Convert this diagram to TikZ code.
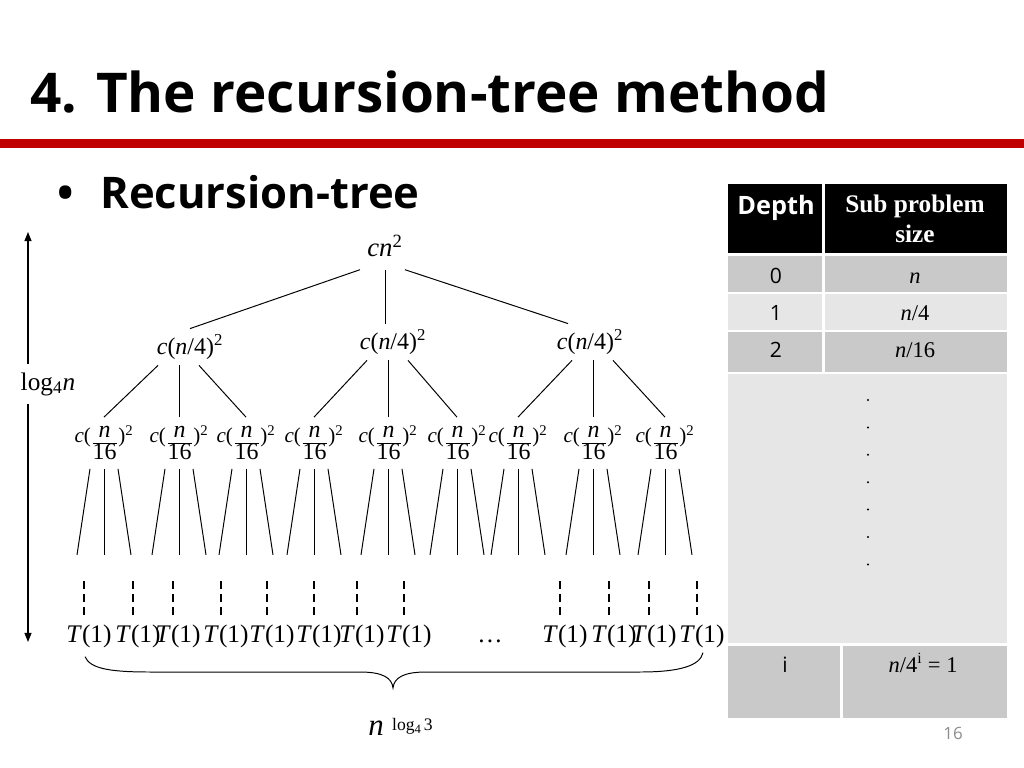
\documentclass[tikz,border=0pt]{standalone}
\usepackage{fontspec}
\setmainfont{Liberation Serif}
\newfontfamily\slidesans{Open Sans}
\usetikzlibrary{calc,positioning,arrows.meta}

\definecolor{slidered}{HTML}{C00000}
\definecolor{celldark}{HTML}{C9C9C9}
\definecolor{celllight}{HTML}{E6E6E6}
\definecolor{pagegray}{HTML}{8C8C8C}

\newcommand{\vv}[1]{\textit{#1}}
\newcommand{\fracpart}[1]{\mbox{\fontsize{17}{17}\selectfont #1}}
\newcommand{\subsixteen}{\vv{c}(\raisebox{-3.8pt}{$\frac{\raisebox{2pt}{\fracpart{\vv{n}}}}{\fracpart{16}}$})\textsuperscript{2}}

\begin{document}
\begin{tikzpicture}[
    x=0.025cm, y=-0.025cm,
    % Node styles
    title/.style={anchor=base west, inner sep=0pt, font=\slidesans\bfseries\fontsize{39}{47}\selectfont},
    bullettext/.style={anchor=base west, inner sep=0pt, font=\slidesans\bfseries\fontsize{31}{37}\selectfont},
    rootlbl/.style={inner xsep=5pt, inner ysep=9pt, font=\fontsize{19}{22}\selectfont},
    halflbl/.style={inner xsep=0pt, inner ysep=4pt, font=\fontsize{17}{20}\selectfont},
    sixteenthlbl/.style={inner xsep=0pt, inner ysep=6pt, font=\fontsize{15}{18}\selectfont},
    leaflbl/.style={anchor=base, inner sep=0pt, font=\fontsize{18}{21}\selectfont},
    loglbl/.style={inner xsep=0pt, inner ysep=6pt, font=\fontsize{18}{21}\selectfont},
    headsans/.style={text=white, font=\slidesans\bfseries\fontsize{18}{21}\selectfont},
    headserif/.style={text=white, align=center, font=\bfseries\fontsize{18}{21.3}\selectfont},
    depthtxt/.style={anchor=base, inner sep=0pt, font=\slidesans\fontsize{15}{18}\selectfont},
    sizetxt/.style={anchor=base, inner sep=0pt, font=\fontsize{16}{19}\selectfont},
    pagenum/.style={text=pagegray, font=\slidesans\fontsize{12}{14}\selectfont},
    % Line styles
    tree/.style={line width=0.7pt},
    leafdash/.style={line width=2pt, dash pattern=on 5.7pt off 3.6pt},
    vert/.style={-{Triangle[length=6.5pt,width=5pt]}, line width=0.8pt},
]

    \useasboundingbox (0,0) rectangle (1024,768);
    \fill[white] (0,0) rectangle (1024,768);

    % Title and bullet
    \node[title] (ttl) at (30,113) {4. The recursion-tree method};
    \fill[slidered] (0,139) rectangle (1024,148);
    \node[bullettext] (dot) at (57,208) {•};
    \node[bullettext] (sub) at (100,208) {Recursion-tree};

    % Table cells
    \fill[black] (728,184) rectangle (822,253);
    \fill[black] (825,184) rectangle (1007,253);
    \fill[celldark] (728,256) rectangle (822,292);
    \fill[celldark] (825,256) rectangle (1007,292);
    \fill[celllight] (728,294) rectangle (822,330);
    \fill[celllight] (825,294) rectangle (1007,330);
    \fill[celldark] (728,332) rectangle (822,372);
    \fill[celldark] (825,332) rectangle (1007,372);
    \fill[celllight] (728,374) rectangle (1007,643);
    \fill[celldark] (728,646) rectangle (840,718);
    \fill[celldark] (843,646) rectangle (1007,718);

    % Table texts
    \node[headsans] (hdepth) at (776,208) {Depth};
    \node[headserif] (hsize) at (915,219) {Sub problem\\size};
    \node[depthtxt] (d0) at (776,283) {0};
    \node[sizetxt] (s0) at (915,283) {\vv{n}};
    \node[depthtxt] (d1) at (776,320) {1};
    \node[sizetxt] (s1) at (915,320) {\vv{n}/4};
    \node[depthtxt] (d2) at (776,357) {2};
    \node[sizetxt] (s2) at (915,357) {\vv{n}/16};
    \foreach \k in {0,...,6}
        \fill (868,400+27.4*\k) circle (0.8pt);
    \node[depthtxt] (di) at (785,672) {i};
    \node[sizetxt] (si) at (923,672) {\vv{n}/4\textsuperscript{i} = 1};
    \node[pagenum] (pg) at (953,733) {16};

    % Tree nodes
    \node[rootlbl] (root) at (385,246) {\vv{c}\vv{n}\textsuperscript{2}};
    \node[halflbl] (l1a) at (190,347) {\vv{c}(\vv{n}/4)\textsuperscript{2}};
    \node[halflbl] (l1b) at (393,342) {\vv{c}(\vv{n}/4)\textsuperscript{2}};
    \node[halflbl] (l1c) at (590,342) {\vv{c}(\vv{n}/4)\textsuperscript{2}};
    \foreach \x [count=\k] in {104,179,246,314,388,457,518,593,665}
        \node[sixteenthlbl] (q\k) at (\x,443) {\subsixteen};
    \foreach \x [count=\k] in {89,138,178,226,272,319,362,409,565,614,654,702}
        \node[leaflbl] (t\k) at (\x,642) {\vv{T}(1)};
    \node[leaflbl] (gap) at (490,642) {…};

    % Draw connections
    \draw[tree] (root.south west) -- (l1a.north);
    \draw[tree] (root.south) -- (root.south |- l1b.north);
    \draw[tree] (root.-50) -- (l1c.140);
    \foreach \p/\a/\b/\c in {l1a/q1/q2/q3, l1b/q4/q5/q6, l1c/q7/q8/q9} {
        \draw[tree] (\p.south -| \b) ++(-21,0) -- (\a.north);
        \draw[tree] (\p.south -| \b) -- (\b.north);
        \draw[tree] (\p.south -| \b) ++(20,0) -- (\c.north);
    }
    \foreach \k in {1,...,9} {
        \draw[tree] (q\k.south) ++(-14,0) -- ++(-13,86);
        \draw[tree] (q\k.south) -- ++(0,86);
        \draw[tree] (q\k.south) ++(14,0) -- ++(13,86);
    }
    \foreach \k in {1,...,12}
        \draw[leafdash] ($(t\k.north)+(-5,-43)$) -- ($(t\k.north)+(-5,-4)$);

    % Brace under the leaves
    \draw[tree] ($(t1.south)+(-4,9)$) .. controls +(5,12) and +(-40,0) .. (150,672)
        -- (360,672) .. controls +(23,0) and +(-1,-10) .. (393,688)
        .. controls +(1,-10) and +(-23,0) .. (426,672)
        -- (640,672) .. controls +(40,0) and +(-3,13) .. ($(t12.south)+(1,5)$);
    \node[anchor=base west, inner sep=0pt, font=\fontsize{22}{24}\selectfont] (count) at (368,735)
        {\vv{n}\hspace{6pt}\raisebox{3pt}{\fontsize{12.5}{14}\selectfont log\raisebox{-2pt}{\fontsize{9}{10}\selectfont 4}\,3}};

    % Height arrow
    \coordinate (atop) at (28,232);
    \coordinate (abot) at (28,642);
    \node[loglbl] (depthlbl) at (48,384) {log\textsubscript{4}\vv{n}};
    \draw[vert] (depthlbl.north -| atop) -- (atop);
    \draw[vert] (depthlbl.south -| abot) -- (abot);

\end{tikzpicture}
\end{document}
